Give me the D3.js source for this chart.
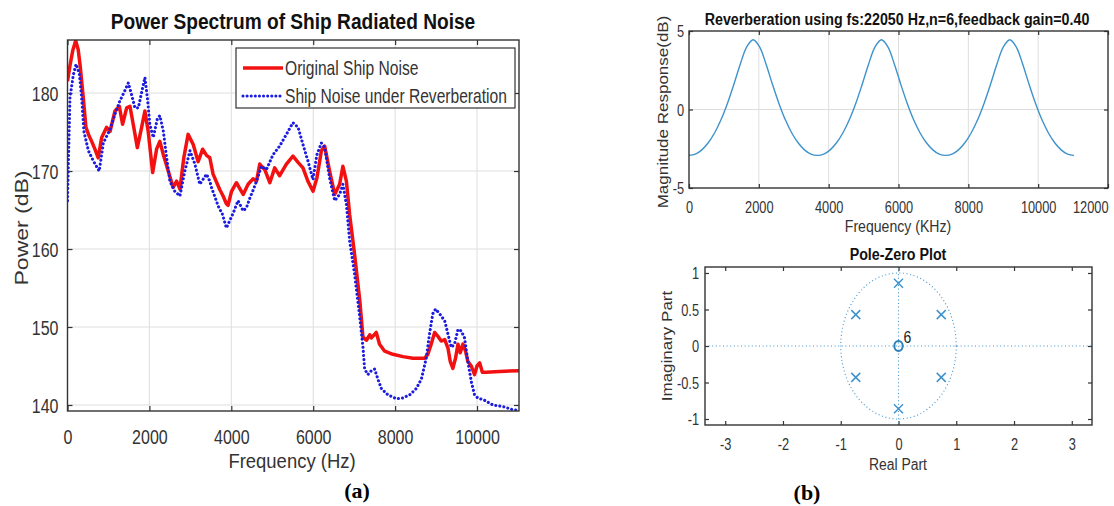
<!DOCTYPE html>
<html>
<head>
<meta charset="utf-8">
<script src="https://cdn.jsdelivr.net/npm/d3@7"></script>
<style>
  html, body { margin: 0; padding: 0; background: #fff; }
  svg { display: block; }
</style>
</head>
<body>
<svg id="fig" width="1114" height="506"></svg>
<script>
// ---------- (a) power spectrum ----------
const seriesNames = ["Original Ship Noise", "Ship Noise under Reverberation"];

const freqOriginal = [0, 60, 130, 200, 260, 305, 385, 450, 520, 590, 670, 750, 835, 955, 1040, 1160, 1265, 1345,
  1445, 1525, 1605, 1705, 1810, 1890, 1970, 2080, 2175, 2255, 2340, 2460, 2580, 2665, 2745, 2840, 2945, 3070,
  3190, 3300, 3395, 3475, 3555, 3720, 3800, 3880, 3920, 4005, 4125, 4200, 4290, 4410, 4530, 4615, 4695, 4775,
  4815, 4940, 5060, 5180, 5345, 5505, 5630, 5750, 5870, 5995, 6090, 6200, 6280, 6400, 6525, 6645, 6725, 6810,
  6890, 7010, 7135, 7215, 7300, 7380, 7420, 7540, 7620, 7745, 7945, 8190, 8435, 8720, 8800, 8880, 8965, 9045,
  9125, 9210, 9290, 9345, 9410, 9475, 9535, 9590, 9655, 9720, 9775, 9860, 9940, 10000, 10065, 10130, 10225,
  10550, 11025];
const originalDb = [181.5, 183.5, 185.5, 186.7, 185.6, 183.7, 179.4, 175.6, 174.6, 173.8, 172.8, 171.7, 174.3,
  175.6, 175.1, 177.7, 178.3, 176.0, 178.1, 178.3, 176.0, 173.0, 175.6, 177.7, 175.1, 169.8, 172.8, 173.8, 172.1,
  170.0, 167.9, 168.7, 167.7, 171.7, 174.7, 173.4, 171.2, 172.8, 172.0, 171.7, 169.6, 167.6, 166.8, 165.8, 165.6,
  167.4, 168.5, 167.8, 167.0, 168.3, 169.0, 168.7, 170.9, 170.4, 170.2, 168.5, 170.4, 169.4, 170.9, 171.9, 171.1,
  170.4, 168.7, 167.4, 169.1, 172.6, 173.2, 170.0, 167.0, 168.3, 170.6, 168.7, 164.4, 159.3, 153.5, 148.7, 148.3,
  149.0, 148.6, 149.3, 147.8, 146.9, 146.5, 146.2, 146.0, 146.0, 146.5, 147.8, 149.3, 148.8, 148.2, 148.4, 147.3,
  145.6, 144.7, 146.0, 147.8, 146.7, 147.8, 146.9, 145.6, 145.0, 143.9, 145.0, 145.4, 144.2, 144.2, 144.3, 144.4];

const freqReverb = [0, 60, 145, 210, 290, 345, 400, 510, 630, 775, 875, 1035, 1160, 1280, 1400, 1485, 1565, 1645,
  1730, 1835, 1890, 1950, 2010, 2095, 2190, 2255, 2340, 2420, 2500, 2620, 2745, 2865, 2990, 3110, 3230, 3395,
  3475, 3515, 3680, 3780, 3880, 4045, 4165, 4290, 4370, 4450, 4530, 4615, 4735, 4860, 5020, 5180, 5345, 5505,
  5630, 5750, 5870, 5995, 6090, 6200, 6280, 6400, 6525, 6645, 6725, 6810, 6890, 7010, 7135, 7215, 7255, 7335,
  7420, 7500, 7580, 7665, 7825, 8030, 8190, 8355, 8515, 8640, 8760, 8840, 8920, 8990, 9085, 9210, 9290, 9370,
  9450, 9535, 9615, 9695, 9775, 9860, 9940, 10020, 10185, 10385, 10630, 10870, 11025];
const reverbDb = [166.2, 179.4, 182.4, 183.7, 182.4, 179.4, 175.1, 172.6, 171.3, 170.0, 173.6, 175.3, 177.3, 179.0,
  180.3, 181.3, 179.8, 178.1, 178.1, 180.7, 182.0, 179.4, 176.0, 174.3, 176.6, 177.1, 175.1, 171.7, 168.7, 167.4,
  166.8, 170.0, 172.6, 170.9, 168.3, 169.6, 168.7, 167.9, 165.5, 164.5, 162.7, 164.6, 166.2, 164.9, 165.3, 166.5,
  167.5, 168.7, 170.6, 170.2, 172.1, 173.2, 174.7, 176.2, 175.6, 173.4, 171.3, 168.9, 172.1, 173.6, 173.0, 169.1,
  166.2, 167.0, 168.3, 165.7, 161.0, 156.8, 151.3, 147.4, 144.6, 143.9, 144.4, 144.6, 143.3, 142.1, 141.3, 140.8,
  140.9, 141.3, 142.1, 143.3, 146.0, 149.1, 151.7, 152.3, 151.7, 150.8, 149.1, 147.4, 147.8, 149.7, 149.5, 148.6,
  145.6, 143.0, 141.3, 140.9, 140.6, 140.0, 139.8, 139.4, 139.3];

const xTicksA = [0, 2000, 4000, 6000, 8000, 10000];
const yTicksA = [140, 150, 160, 170, 180];

// ---------- (b) comb filter magnitude response ----------
const magFreq = [0, 184, 368, 551, 735, 919, 1103, 1286, 1470, 1654, 1838, 2021, 2205, 2389, 2573, 2756, 2940,
  3124, 3308, 3491, 3675, 3859, 4043, 4226, 4410, 4594, 4778, 4961, 5145, 5329, 5513, 5696, 5880, 6064, 6248,
  6431, 6615, 6799, 6983, 7166, 7350, 7534, 7718, 7901, 8085, 8269, 8453, 8636, 8820, 9004, 9188, 9371, 9555,
  9739, 9923, 10106, 10290, 10474, 10658, 10841, 11025];
const magDb = [-2.92, -2.84, -2.57, -2.12, -1.48, -0.64, 0.40, 1.61, 2.90, 3.99, 4.44, 3.99, 2.90, 1.61, 0.40,
  -0.64, -1.48, -2.12, -2.57, -2.84, -2.92, -2.84, -2.57, -2.12, -1.48, -0.64, 0.40, 1.61, 2.90, 3.99, 4.44,
  3.99, 2.90, 1.61, 0.40, -0.64, -1.48, -2.12, -2.57, -2.84, -2.92, -2.84, -2.57, -2.12, -1.48, -0.64, 0.40,
  1.61, 2.90, 3.99, 4.44, 3.99, 2.90, 1.61, 0.40, -0.64, -1.48, -2.12, -2.57, -2.84, -2.92];
const xTicksB = [0, 2000, 4000, 6000, 8000, 10000, 12000];
const yTicksB = [-5, 0, 5];

// ---------- (b) pole-zero plot ----------
const poleRe = [0.74, 0, -0.74, -0.74, 0, 0.74];
const poleIm = [0.43, 0.86, 0.43, -0.43, -0.86, -0.43];
const zeroRe = [0];
const zeroIm = [0];
const zeroOrder = ["6"];
const xTicksC = [-3, -2, -1, 0, 1, 2, 3];
const yTicksC = [-1, -0.5, 0, 0.5, 1];

// ---------- drawing ----------
const FONT = "Arial, 'Liberation Sans', Helvetica, sans-serif";
const SERIF = "'Times New Roman', 'Liberation Serif', serif";
const INK = "#333333";
const GRID = "#dedede";
const RED = "#f21010";
const BLUE = "#1c1ce0";
const MATBLUE = "#3f93cc";

const svg = d3.select("#fig").attr("font-family", FONT);

// horizontally squeezed text
function hText(g, txt, x, y, o) {
  return g.append("text")
    .attr("transform", `translate(${x},${y}) scale(${o.sx},1)`)
    .attr("text-anchor", o.anchor || "middle")
    .attr("font-size", o.size)
    .attr("font-weight", o.weight || "normal")
    .attr("font-family", o.family || FONT)
    .attr("fill", o.fill || INK)
    .attr("dy", o.dy || null)
    .text(txt);
}
// rotated axis label, squeezed across its thickness
function vText(g, txt, x, y, o) {
  return g.append("text")
    .attr("transform", `translate(${x},${y}) rotate(-90) scale(1,${o.sx})`)
    .attr("text-anchor", "middle")
    .attr("dy", "0.35em")
    .attr("font-size", o.size)
    .attr("fill", o.fill || INK)
    .text(txt);
}

// boxed axes with inward ticks on all four sides
function frame(g, x, y, xt, yt, o) {
  const [xl, xr] = x.range();
  const [yb, yt0] = y.range();
  const fmt = d => String(d);
  if (o.gridX) g.append("g").selectAll("line").data(o.gridX).join("line")
    .attr("x1", d => x(d)).attr("x2", d => x(d)).attr("y1", yt0).attr("y2", yb)
    .attr("stroke", GRID).attr("stroke-width", 1);
  if (o.gridY) g.append("g").selectAll("line").data(o.gridY).join("line")
    .attr("y1", d => y(d)).attr("y2", d => y(d)).attr("x1", xl).attr("x2", xr)
    .attr("stroke", GRID).attr("stroke-width", 1);

  const style = sel => {
    sel.select(".domain").remove();
    sel.attr("color", INK).attr("font-family", FONT).attr("font-size", o.fs);
    sel.selectAll("line").attr("stroke-width", 1.2);
  };
  const bottom = g.append("g").attr("transform", `translate(0,${yb})`)
    .call(d3.axisBottom(x).tickValues(xt).tickSize(-o.tick).tickFormat(fmt)).call(style);
  bottom.selectAll("text").attr("y", o.xLabOff).attr("dy", "0.35em")
    .attr("transform", `scale(${o.sx},1)`).attr("fill", INK);
  if (o.lastEnd) bottom.selectAll("text").filter(d => d === xt[xt.length - 1])
    .attr("text-anchor", "end").attr("x", 0);
  g.append("g").attr("transform", `translate(0,${yt0})`)
    .call(d3.axisTop(x).tickValues(xt).tickSize(-o.tick).tickFormat("")).call(style);
  const left = g.append("g").attr("transform", `translate(${xl},0)`)
    .call(d3.axisLeft(y).tickValues(yt).tickSize(-o.tick).tickFormat(fmt)).call(style);
  left.selectAll("text").attr("x", -o.yLabOff / o.sx).attr("dy", "0.35em")
    .attr("transform", `scale(${o.sx},1)`).attr("fill", INK);
  g.append("g").attr("transform", `translate(${xr},0)`)
    .call(d3.axisRight(y).tickValues(yt).tickSize(-o.tick).tickFormat("")).call(style);
}
function box(g, x, y) {
  const [xl, xr] = x.range();
  const [yb, yt] = y.range();
  g.append("rect").attr("x", xl).attr("y", yt).attr("width", xr - xl).attr("height", yb - yt)
    .attr("fill", "none").attr("stroke", INK).attr("stroke-width", 1.4);
}

// ===== panel (a) =====
const gA = svg.append("g");
const xa = d3.scaleLinear().domain([0, 11025]).range([67.5, 519]);
const ya = d3.scaleLinear().domain([139.23, 186.8]).range([411, 40]);
frame(gA, xa, ya, xTicksA, yTicksA, {
  gridX: xTicksA.slice(1), gridY: yTicksA, tick: 5, fs: 20, sx: 0.8, xLabOff: 26.5, yLabOff: 9
});

svg.append("defs").append("clipPath").attr("id", "clipA")
  .append("rect").attr("x", 67.5).attr("y", 40).attr("width", 451.5).attr("height", 371);

const lineA = (fx, vy) => d3.line().x((d, i) => xa(fx[i])).y(d => ya(d))(vy);
gA.append("path").attr("d", lineA(freqOriginal, originalDb)).attr("clip-path", "url(#clipA)")
  .attr("fill", "none").attr("stroke", RED).attr("stroke-width", 3.5)
  .attr("stroke-linejoin", "round");
gA.append("path").attr("d", lineA(freqReverb, reverbDb)).attr("clip-path", "url(#clipA)")
  .attr("fill", "none").attr("stroke", BLUE).attr("stroke-width", 3.1)
  .attr("stroke-linecap", "round").attr("stroke-dasharray", "0.01 4.1");
box(gA, xa, ya);

hText(gA, "Power Spectrum of Ship Radiated Noise", 293, 29, { size: 22.5, weight: "bold", sx: 0.85, fill: "#111" });
hText(gA, "Frequency (Hz)", 292, 468, { size: 21, sx: 0.88 });
vText(gA, "Power (dB)", 21, 228, { size: 23, sx: 0.82 });

// legend
const leg = gA.append("g");
leg.append("rect").attr("x", 236).attr("y", 48).attr("width", 279).attr("height", 60)
  .attr("fill", "#fff").attr("stroke", INK).attr("stroke-width", 1.2);
const legRows = [68, 96];
const legStyles = [
  { stroke: RED, w: 3.5, dash: null, cap: "butt" },
  { stroke: BLUE, w: 3.1, dash: "0.01 4.1", cap: "round" }
];
seriesNames.forEach((name, i) => {
  leg.append("line").attr("x1", 243).attr("x2", 283).attr("y1", legRows[i]).attr("y2", legRows[i])
    .attr("stroke", legStyles[i].stroke).attr("stroke-width", legStyles[i].w)
    .attr("stroke-dasharray", legStyles[i].dash).attr("stroke-linecap", legStyles[i].cap);
  hText(leg, name, 285, legRows[i], { size: 20, sx: 0.78, anchor: "start", dy: "0.35em" });
});

// ===== panel (b), magnitude response =====
const gB = svg.append("g");
const xb = d3.scaleLinear().domain([0, 12000]).range([689, 1108]);
const yb = d3.scaleLinear().domain([-5, 5]).range([188, 31]);
frame(gB, xb, yb, xTicksB, yTicksB, {
  gridX: xTicksB.slice(1, -1), gridY: [0], tick: 4, fs: 16, sx: 0.8, xLabOff: 19, yLabOff: 5, lastEnd: true
});
gB.append("path")
  .attr("d", d3.line().x((d, i) => xb(magFreq[i])).y(d => yb(d)).curve(d3.curveCatmullRom)(magDb))
  .attr("fill", "none").attr("stroke", MATBLUE).attr("stroke-width", 1.4);
box(gB, xb, yb);
hText(gB, "Reverberation using fs:22050 Hz,n=6,feedback gain=0.40", 897, 25, { size: 17, weight: "bold", sx: 0.84, fill: "#111" });
hText(gB, "Frequency (KHz)", 898, 232, { size: 16, sx: 0.88 });
vText(gB, "Magnitude Response(dB)", 663, 112, { size: 17, sx: 0.85 });

// ===== panel (b), pole-zero plot =====
const gC = svg.append("g");
const xc = d3.scaleLinear().domain([-3.35, 3.35]).range([705, 1092]);
const yc = d3.scaleLinear().domain([-1.082, 1.082]).range([425, 267]);
frame(gC, xc, yc, xTicksC, yTicksC, { tick: 4, fs: 16, sx: 0.8, xLabOff: 19, yLabOff: 6 });

const dotted = sel => sel.attr("fill", "none").attr("stroke", MATBLUE).attr("stroke-width", 1.1)
  .attr("stroke-dasharray", "1 2.6");
gC.append("line").attr("x1", xc(-3.35)).attr("x2", xc(3.35)).attr("y1", yc(0)).attr("y2", yc(0)).call(dotted);
gC.append("line").attr("x1", xc(0)).attr("x2", xc(0)).attr("y1", yc(1.082)).attr("y2", yc(-1.082)).call(dotted);
gC.append("ellipse").attr("cx", xc(0)).attr("cy", yc(0))
  .attr("rx", xc(1) - xc(0)).attr("ry", yc(0) - yc(1)).call(dotted);

const poles = poleRe.map((re, i) => ({ re, im: poleIm[i] }));
const px = gC.append("g").selectAll("g").data(poles).join("g")
  .attr("transform", d => `translate(${xc(d.re)},${yc(d.im)})`)
  .attr("stroke", MATBLUE).attr("stroke-width", 1.5);
px.append("line").attr("x1", -4.5).attr("y1", -4.5).attr("x2", 4.5).attr("y2", 4.5);
px.append("line").attr("x1", -4.5).attr("y1", 4.5).attr("x2", 4.5).attr("y2", -4.5);

const zeros = zeroRe.map((re, i) => ({ re, im: zeroIm[i], n: zeroOrder[i] }));
gC.append("g").selectAll("ellipse").data(zeros).join("ellipse")
  .attr("cx", d => xc(d.re)).attr("cy", d => yc(d.im)).attr("rx", 4.2).attr("ry", 5)
  .attr("fill", "none").attr("stroke", "#2f7fb8").attr("stroke-width", 2);
zeros.forEach(d => hText(gC, d.n, xc(d.re) + 5, yc(d.im) - 3, { size: 16.5, sx: 0.85, anchor: "start", fill: "#222" }));
box(gC, xc, yc);

hText(gC, "Pole-Zero Plot", 898, 260, { size: 17, weight: "bold", sx: 0.84, fill: "#111" });
hText(gC, "Real Part", 898, 470, { size: 16, sx: 0.87 });
vText(gC, "Imaginary Part", 667, 346, { size: 17, sx: 0.85 });

// ===== panel captions =====
hText(svg, "(a)", 357, 498, { size: 22, weight: "bold", sx: 1, family: SERIF, fill: "#000" });
hText(svg, "(b)", 807, 500, { size: 22, weight: "bold", sx: 1, family: SERIF, fill: "#000" });
</script>
</body>
</html>
